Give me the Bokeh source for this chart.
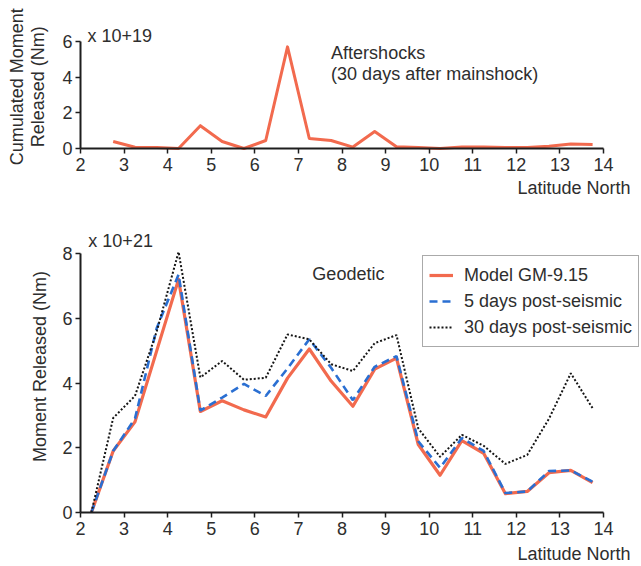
from bokeh.plotting import figure
from bokeh.layouts import column
from bokeh.models import Range1d, Label, Legend, LegendItem, FixedTicker, LinearAxis
from bokeh.embed import file_html
from bokeh.resources import INLINE
import math

# ---- data ----
lat_after = [2.75, 3.25, 3.75, 4.25, 4.75, 5.25, 5.75, 6.25, 6.75, 7.25, 7.75, 8.25,
             8.75, 9.25, 9.75, 10.25, 10.75, 11.25, 11.75, 12.25, 12.75, 13.25, 13.75]
aftershocks = [0.39, 0.07, 0.05, 0.0, 1.28, 0.39, 0.0, 0.45, 5.7, 0.56, 0.45, 0.08,
               0.95, 0.1, 0.05, 0.0, 0.08, 0.08, 0.05, 0.05, 0.12, 0.25, 0.22]

lat_geo = [2.25, 2.75, 3.25, 3.75, 4.25, 4.75, 5.25, 5.75, 6.25, 6.75, 7.25, 7.75,
           8.25, 8.75, 9.25, 9.75, 10.25, 10.75, 11.25, 11.75, 12.25, 12.75, 13.25, 13.75]
model_gm = [0.0, 1.9, 2.8, 5.0, 7.2, 3.12, 3.45, 3.17, 2.95, 4.15, 5.05, 4.06,
            3.28, 4.43, 4.77, 2.1, 1.15, 2.22, 1.83, 0.58, 0.65, 1.23, 1.3, 0.92]
post5 = [0.0, 1.9, 2.9, 5.7, 7.35, 3.15, 3.55, 3.97, 3.6, 4.45, 5.35, 4.47,
         3.47, 4.5, 4.83, 2.2, 1.38, 2.3, 1.9, 0.6, 0.65, 1.28, 1.3, 0.95]
post30 = [0.0, 2.92, 3.6, 5.6, 8.05, 4.17, 4.68, 4.1, 4.16, 5.5, 5.35, 4.58,
          4.37, 5.23, 5.48, 2.6, 1.72, 2.4, 2.06, 1.5, 1.78, 2.9, 4.3, 3.22]

x_ticks = list(range(2, 15))
y_ticks_top = [0, 2, 4, 6]
y_ticks_bot = [0, 2, 4, 6, 8]

FONT = "Liberation Sans"
TXT = "#2e2e2e"
RED = "#F26A4E"
BLUE = "#2A6FD2"
BLACK = "#151515"


def make_axes(p, ymax, yticks):
    xa = LinearAxis(fixed_location=0, bounds=(2, 14), ticker=FixedTicker(ticks=x_ticks))
    ya = LinearAxis(fixed_location=2, bounds=(0, ymax), ticker=FixedTicker(ticks=yticks))
    for ax in (xa, ya):
        ax.axis_line_width = 2
        ax.axis_line_color = "#1e1e1e"
        ax.major_tick_line_color = "#1e1e1e"
        ax.major_tick_line_width = 1.5
        ax.major_tick_out = 5
        ax.major_tick_in = 0
        ax.minor_tick_line_color = None
        ax.major_label_text_font = FONT
        ax.major_label_text_font_size = "18px"
        ax.major_label_text_color = TXT
        ax.major_label_standoff = 4
    ya.major_label_standoff = 3
    p.add_layout(xa, "below")
    p.add_layout(ya, "left")


def base(h, xr, yr):
    p = figure(width=641, height=h, x_range=Range1d(*xr), y_range=Range1d(*yr),
               output_backend="svg", toolbar_location=None,
               x_axis_location=None, y_axis_location=None)
    p.min_border = 0
    p.min_border_left = 0
    p.min_border_right = 0
    p.min_border_top = 0
    p.min_border_bottom = 0
    p.outline_line_color = None
    p.grid.visible = False
    p.background_fill_color = "white"
    p.border_fill_color = "white"
    return p


def lab(p, x, y, text, align="left", angle=0.0):
    p.add_layout(Label(x=x, y=y, text=text, text_font=FONT, text_font_size="18px",
                       text_color=TXT, text_align=align, text_baseline="middle",
                       angle=angle))


# ---- top figure (frame = whole canvas; 2->80px, 14->603px, 0->148px, 6->41px) ----
sx = (603 - 80) / 12.0
sy_t = (148 - 41) / 6.0
top = base(215, (2 - 80 / sx, 14 + 38 / sx), (-(215 - 148) / sy_t, 6 + 41 / sy_t))
make_axes(top, 6, y_ticks_top)
top.line(lat_after, aftershocks, line_color=RED, line_width=3, line_join="round")
lab(top, 2.16, 6.33, "x 10+19")
lab(top, 7.75, 5.36, "Aftershocks")
lab(top, 7.75, 4.19, "(30 days after mainshock)")
lab(top, 14.62, -2.23, "Latitude North", align="right")
lab(top, 0.55, 3.46, "Cumulated Moment", align="center", angle=math.pi / 2)
lab(top, 1.03, 3.46, "Released (Nm)", align="center", angle=math.pi / 2)

# ---- bottom figure (0->297px, 8->38px local) ----
sy_b = (297 - 38) / 8.0
bot = base(351, (2 - 80 / sx, 14 + 38 / sx), (-(351 - 297) / sy_b, 8 + 38 / sy_b))
make_axes(bot, 8, y_ticks_bot)
r1 = bot.line(lat_geo, model_gm, line_color=RED, line_width=3.2, line_join="round")
r2 = bot.line(lat_geo, post5, line_color=BLUE, line_width=2.6, line_dash="8 5")
r3 = bot.line(lat_geo, post30, line_color=BLACK, line_width=2, line_dash="2 2")
lab(bot, 2.18, 8.4, "x 10+21")
lab(bot, 7.32, 7.38, "Geodetic")
lab(bot, 14.62, -1.27, "Latitude North", align="right")
lab(bot, 1.06, 4.51, "Moment Released (Nm)", align="center", angle=math.pi / 2)

legend = Legend(items=[LegendItem(label="Model GM-9.15", renderers=[r1]),
                       LegendItem(label="5 days post-seismic", renderers=[r2]),
                       LegendItem(label="30 days post-seismic", renderers=[r3])],
                location=(422, 219))
legend.padding = 6
legend.spacing = 0
legend.margin = 0
legend.label_standoff = 11
legend.glyph_width = 24
legend.glyph_height = 26
legend.label_height = 26
legend.label_text_font = FONT
legend.label_text_font_size = "18px"
legend.label_text_color = TXT
legend.border_line_color = "#555555"
legend.border_line_width = 1
legend.background_fill_color = "white"
legend.background_fill_alpha = 1.0
bot.add_layout(legend)

layout = column(top, bot, spacing=0)
open("out.html", "w").write(file_html(layout, INLINE))
